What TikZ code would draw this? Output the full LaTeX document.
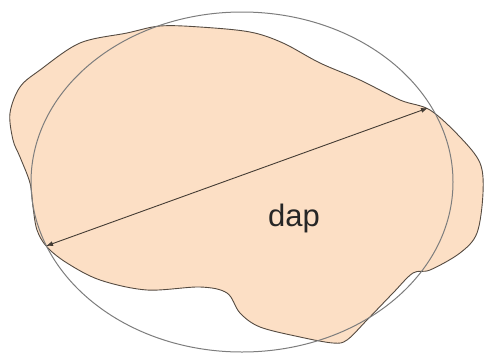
\documentclass[tikz,border=0pt]{standalone}
\usepackage{fontspec}
\setmainfont{Liberation Sans}
\usepackage{xcolor}
\usetikzlibrary{arrows.meta}

\definecolor{peach}{RGB}{252,223,197}
\definecolor{blobline}{RGB}{85,75,65}
\definecolor{ringline}{RGB}{125,125,125}

\begin{document}
\begin{tikzpicture}[x=1pt, y=-1pt,
    blob/.style={fill=peach, draw=blobline, line width=0.9pt},
    ring/.style={draw=ringline, line width=1pt},
    dimline/.style={draw=blobline!80!black, line width=0.9pt, {Latex[length=7pt,width=5pt]}-{Latex[length=7pt,width=5pt]}}]
            % fix the page size
            \useasboundingbox (0,0) rectangle (487,354);

            % Draw the irregular section
            \draw[blob] plot[smooth cycle, tension=0.55] coordinates {
              (10,113) (20,87) (40,70) (80,43) (127,33) (160,26) (200,27)
              (250,32) (283,43) (320,63) (360,80) (400,100) (430,110)
              (460,137) (480,163) (483,193) (477,233) (460,253) (430,270)
              (413,273) (393,293) (367,320) (347,340) (333,343) (300,337)
              (260,327) (240,313) (227,293) (200,287) (147,290) (100,280)
              (67,263) (47,247) (37,230) (33,207) (30,183) (20,157) (13,140)};

            % Draw the enclosing circle
            \draw[ring] (242,182) ellipse [x radius=211, y radius=170];

            % Draw the diameter
            \coordinate (right end) at (428,108);
            \coordinate (left end) at (46,246);
            \draw[dimline] (left end) -- (right end);

            % Add label
            \node[font=\fontsize{31}{36}\selectfont, text=black!85] (dap) at (294,218) {dap};
        \end{tikzpicture}
\end{document}
